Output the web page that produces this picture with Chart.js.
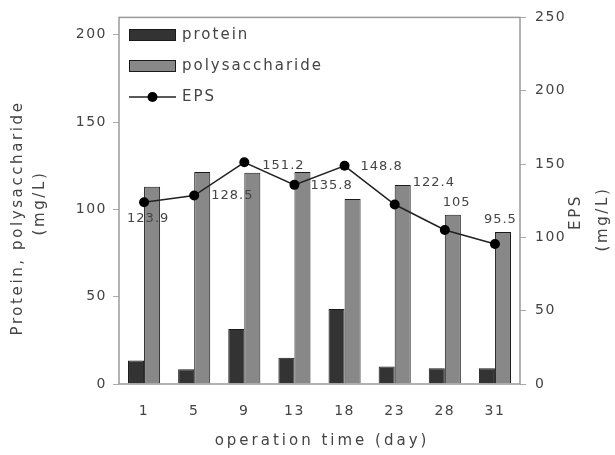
<!DOCTYPE html>
<html>
<head>
<meta charset="utf-8">
<script src="https://cdn.jsdelivr.net/npm/chart.js@4/dist/chart.umd.min.js"></script>
<style>
html,body{margin:0;padding:0;background:#fff;}
#wrap{width:615px;height:455px;position:relative;}
</style>
</head>
<body>
<div id="wrap"><canvas id="c" width="615" height="455"></canvas></div>
<script>
const days = ['1','5','9','13','18','23','28','31'];
const protein = [13.5, 8.5, 31.5, 15, 43, 10, 9, 9];
const polysaccharide = [113, 121.5, 121, 121.5, 106, 114, 97, 87];
const eps = [123.9, 128.5, 151.2, 135.8, 148.8, 122.4, 105, 95.5];
const epsLabels = ['123.9','128.5','151.2','135.8','148.8','122.4','105','95.5'];
const leftTicks = [0, 50, 100, 150, 200];
const rightTicks = [0, 50, 100, 150, 200, 250];

// label placement offsets (text left, middle) relative to each point
const labelOffsets = [[-17,16],[17,0],[18,3],[16,1],[16,1],[18,-22],[-2,-27],[-11,-24]];

const TXT = '#444';
const FONT = '"DejaVu Sans", sans-serif';

const spacingPlugin = {
  id: 'spacing',
  beforeLayout(chart){ chart.ctx.letterSpacing = '1.5px'; },
  beforeDraw(chart){ chart.ctx.letterSpacing = '1.5px'; }
};

const decorPlugin = {
  id: 'decor',
  afterDatasetsDraw(chart){
    const ctx = chart.ctx;
    const a = chart.chartArea;
    ctx.save();
    ctx.strokeStyle = '#9a9a9a';
    ctx.lineWidth = 1.5;
    ctx.strokeRect(a.left, a.top, a.right - a.left, a.bottom - a.top);
    const meta = chart.getDatasetMeta(2);
    ctx.fillStyle = TXT;
    ctx.font = '13px ' + FONT;
    ctx.letterSpacing = '1px';
    ctx.textAlign = 'left';
    ctx.textBaseline = 'middle';
    meta.data.forEach((pt, i) => {
      const o = labelOffsets[i];
      ctx.fillText(epsLabels[i], pt.x + o[0], pt.y + o[1]);
    });
    ctx.restore();
  },
  afterDraw(chart){
    const ctx = chart.ctx;
    ctx.save();
    const items = chart.data.datasets;
    const bx = 129, bw = 47;
    const rows = [35, 66, 97];
    ctx.font = '15px ' + FONT;
    ctx.letterSpacing = '2px';
    ctx.textBaseline = 'middle';
    ctx.textAlign = 'left';
    items.forEach((ds, i) => {
      const y = rows[i];
      if (ds.type === 'line') {
        ctx.strokeStyle = ds.borderColor;
        ctx.lineWidth = ds.borderWidth;
        ctx.beginPath(); ctx.moveTo(bx, y); ctx.lineTo(bx + bw, y); ctx.stroke();
        ctx.fillStyle = ds.pointBackgroundColor;
        ctx.beginPath(); ctx.arc(bx + bw/2, y, ds.pointRadius, 0, Math.PI*2); ctx.fill();
      } else {
        ctx.fillStyle = ds.backgroundColor;
        ctx.fillRect(bx, y - 6, bw, 12);
        ctx.strokeStyle = ds.borderColor;
        ctx.lineWidth = 1;
        ctx.strokeRect(bx + 0.5, y - 6 + 0.5, bw - 1, 11);
      }
      ctx.fillStyle = TXT;
      ctx.fillText(ds.label, 182, y);
    });
    // axis titles
    ctx.font = '15px ' + FONT;
    ctx.textAlign = 'center';
    ctx.letterSpacing = '3px';
    ctx.fillText('operation time (day)', 322, 441);
    ctx.letterSpacing = '2.6px';
    const vtext = (t, x, y) => {
      ctx.save(); ctx.translate(x, y); ctx.rotate(-Math.PI/2);
      ctx.fillText(t, 0, 0); ctx.restore();
    };
    vtext('Protein, polysaccharide', 18, 218);
    vtext('(mg/L)', 40, 203);
    vtext('EPS', 576, 212);
    vtext('(mg/L)', 603, 219);
    ctx.restore();
  }
};

new Chart(document.getElementById('c'), {
  type: 'bar',
  data: {
    labels: days,
    datasets: [
      { type: 'bar', label: 'protein', data: protein, yAxisID: 'y',
        backgroundColor: '#333333', borderColor: '#1a1a1a', borderWidth: 1,
        categoryPercentage: 0.64, barPercentage: 1.0, order: 1 },
      { type: 'bar', label: 'polysaccharide', data: polysaccharide, yAxisID: 'y',
        backgroundColor: '#888888', borderColor: '#1a1a1a', borderWidth: 1,
        categoryPercentage: 0.64, barPercentage: 1.0, order: 1 },
      { type: 'line', label: 'EPS', data: eps, yAxisID: 'y2',
        borderColor: '#222222', borderWidth: 1.5, pointRadius: 5,
        pointBackgroundColor: '#000000', pointBorderColor: '#000000',
        pointBorderWidth: 0, tension: 0, order: 0 }
    ]
  },
  options: {
    responsive: false,
    animation: false,
    devicePixelRatio: 1,
    layout: { padding: { top: 12, left: 0, right: 0, bottom: 0 } },
    plugins: { legend: { display: false }, tooltip: { enabled: false } },
    scales: {
      x: {
        offset: true,
        grid: { display: false, drawTicks: false },
        border: { display: false },
        ticks: { color: TXT, font: { family: FONT, size: 14 }, padding: 19, maxRotation: 0 },
        title: { display: false },
        afterFit(s){ s.height = 71; }
      },
      y: {
        position: 'left', min: 0, max: 210,
        grid: { drawOnChartArea: false, tickLength: 6, color: '#aaaaaa' },
        border: { display: false },
        ticks: { color: TXT, font: { family: FONT, size: 14 }, padding: 6, stepSize: 50 },
        afterBuildTicks(s){ s.ticks = leftTicks.map(v => ({ value: v })); },
        afterFit(s){ s.width = 119; }
      },
      y2: {
        position: 'right', min: 0, max: 250,
        grid: { drawOnChartArea: false, tickLength: 6, color: '#aaaaaa' },
        border: { display: false },
        ticks: { color: TXT, font: { family: FONT, size: 14 }, padding: 9, stepSize: 50 },
        afterBuildTicks(s){ s.ticks = rightTicks.map(v => ({ value: v })); },
        afterFit(s){ s.width = 95; }
      }
    }
  },
  plugins: [spacingPlugin, decorPlugin]
});
</script>
</body>
</html>
